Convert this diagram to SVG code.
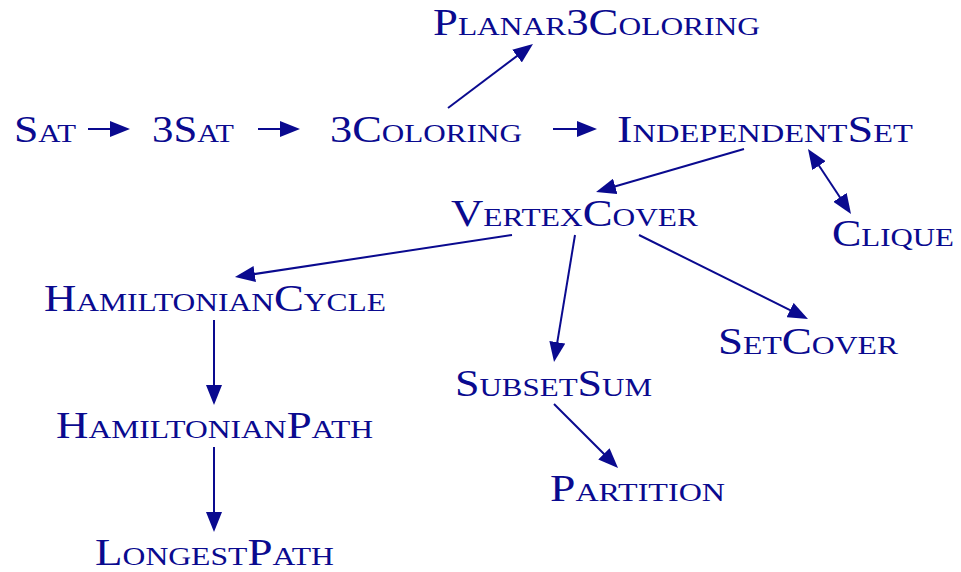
<svg xmlns="http://www.w3.org/2000/svg" width="961" height="572" viewBox="0 0 961 572">
<style>
text{font-family:"Liberation Serif","DejaVu Serif",serif;font-size:37px;font-variant:small-caps;fill:#0a0a8f}
.e line{stroke:#0a0a8f;stroke-width:2;fill:none}
</style>
<defs>
<marker id="ah" viewBox="0 0 20 16" refX="14" refY="8" markerWidth="20" markerHeight="16" markerUnits="userSpaceOnUse" orient="auto-start-reverse">
<path d="M0,0 L20,8 L0,16 Z" fill="#0a0a8f"/>
</marker>
</defs>
<rect width="961" height="572" fill="#fff"/>
<g id="sat"><text x="14" y="142" textLength="62" lengthAdjust="spacingAndGlyphs">Sat</text></g>
<g id="3sat"><text x="152" y="142" textLength="82" lengthAdjust="spacingAndGlyphs">3Sat</text></g>
<g id="3coloring"><text x="330" y="142" textLength="192" lengthAdjust="spacingAndGlyphs">3Coloring</text></g>
<g id="independentset"><text x="617" y="142" textLength="296" lengthAdjust="spacingAndGlyphs">IndependentSet</text></g>
<g id="planar3coloring"><text x="433" y="35" textLength="327" lengthAdjust="spacingAndGlyphs">Planar3Coloring</text></g>
<g id="vertexcover"><text x="451" y="226" textLength="247" lengthAdjust="spacingAndGlyphs">VertexCover</text></g>
<g id="clique"><text x="832" y="246" textLength="122" lengthAdjust="spacingAndGlyphs">Clique</text></g>
<g id="hamiltoniancycle"><text x="44" y="311" textLength="342" lengthAdjust="spacingAndGlyphs">HamiltonianCycle</text></g>
<g id="setcover"><text x="718" y="354" textLength="180" lengthAdjust="spacingAndGlyphs">SetCover</text></g>
<g id="subsetsum"><text x="455" y="396" textLength="197" lengthAdjust="spacingAndGlyphs">SubsetSum</text></g>
<g id="hamiltonianpath"><text x="56" y="438" textLength="317" lengthAdjust="spacingAndGlyphs">HamiltonianPath</text></g>
<g id="partition"><text x="550" y="501" textLength="175" lengthAdjust="spacingAndGlyphs">Partition</text></g>
<g id="longestpath"><text x="95" y="565" textLength="239" lengthAdjust="spacingAndGlyphs">LongestPath</text></g>
<g id="connectors" class="e">
<line x1="88" y1="129" x2="124" y2="129" marker-end="url(#ah)"/>
<line x1="258" y1="129" x2="294" y2="129" marker-end="url(#ah)"/>
<line x1="553" y1="129" x2="591" y2="129" marker-end="url(#ah)"/>
<line x1="448" y1="108" x2="528.2" y2="47.6" marker-end="url(#ah)"/>
<line x1="744" y1="149" x2="601.8" y2="190.3" marker-end="url(#ah)"/>
<line x1="811.3" y1="154" x2="847.7" y2="209" marker-start="url(#ah)" marker-end="url(#ah)"/>
<line x1="512" y1="235" x2="240.9" y2="276.1" marker-end="url(#ah)"/>
<line x1="575" y1="235" x2="555" y2="356.1" marker-end="url(#ah)"/>
<line x1="639" y1="235" x2="802.6" y2="316.3" marker-end="url(#ah)"/>
<line x1="214" y1="320" x2="214" y2="399" marker-end="url(#ah)"/>
<line x1="214" y1="447" x2="214" y2="526" marker-end="url(#ah)"/>
<line x1="554" y1="404" x2="613.8" y2="463.8" marker-end="url(#ah)"/>
</g>
</svg>
